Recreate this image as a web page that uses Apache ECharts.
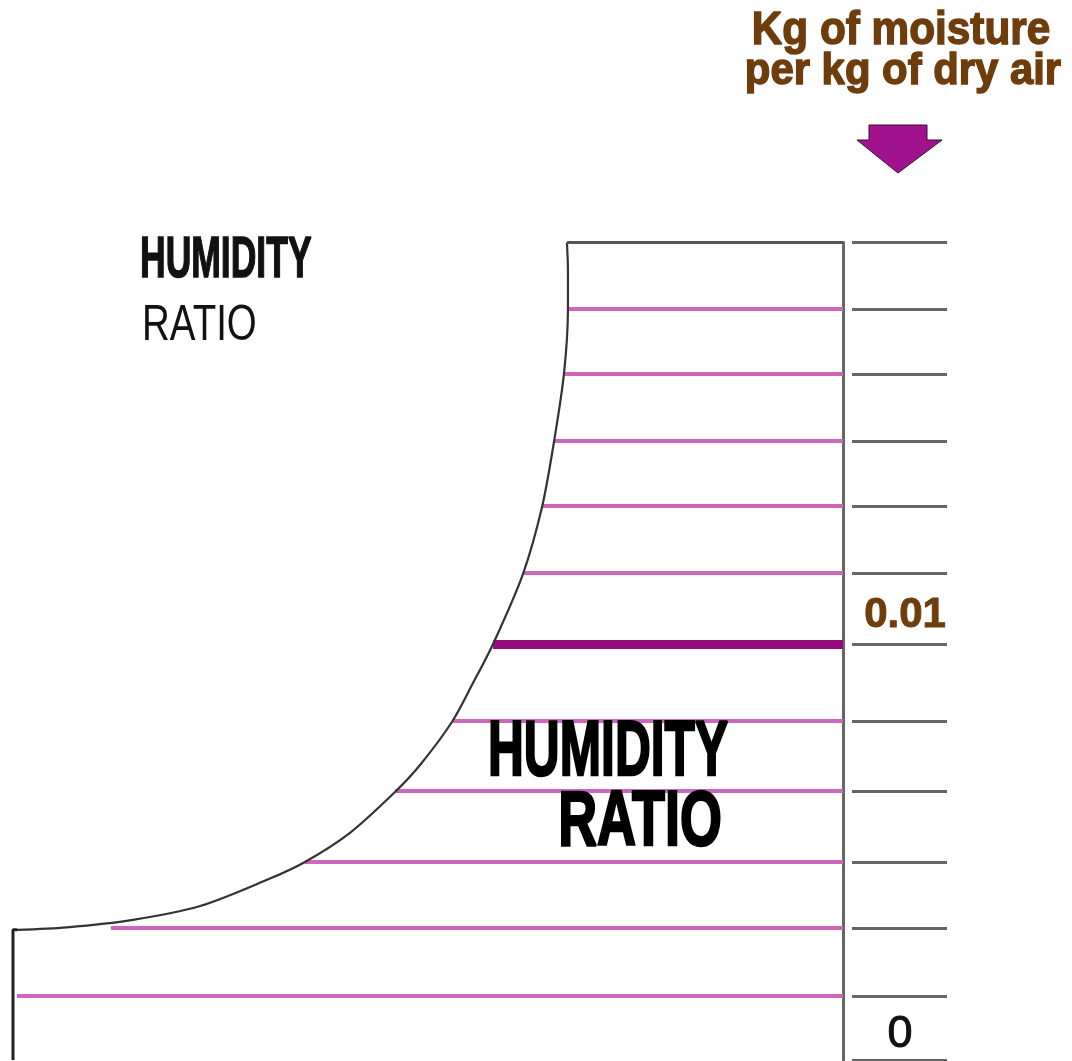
<!doctype html>
<html lang="en">
<head>
    <meta charset="UTF-8">
    <title>Humidity ratio</title>
    <script src="https://cdn.jsdelivr.net/npm/echarts@6.0.0/dist/echarts.min.js"></script>
    <style>
        html, body { margin: 0; padding: 0; background: #fff; }
        #chart { width: 1072px; height: 1061px; }
    </style>
</head>
<body>
<div id="chart"></div>
<script>
    // humidity ratio levels (kg moisture / kg dry air) of the horizontal lines
    const lineValues = [0.00154, 0.00317, 0.00476, 0.00647, 0.00815, 0.01171, 0.01332, 0.01488, 0.01649, 0.01805]
    // where each line meets the saturation curve (dry bulb, arbitrary 0-50 scale)
    const lineStarts = [0.24, 5.9, 17.59, 23.01, 26.45, 30.72, 31.87, 32.59, 33.19, 33.43]
    // highlighted level
    const markValue = 0.01
    const markStart = 28.92
    // saturation curve
    const curveX = [0.24, 3.25, 7.23, 11.27, 15.30, 17.59, 20.30, 23.01, 24.52, 26.45, 27.71, 28.92, 30.72, 31.87, 32.59, 33.19, 33.43, 33.43, 33.37]
    const curveY = [0.00313, 0.00319, 0.00337, 0.00370, 0.00433, 0.00476, 0.00546, 0.00644, 0.00709, 0.00813, 0.00906, 0.01000, 0.01168, 0.01329, 0.01486, 0.01649, 0.01805, 0.01899, 0.01965]
    const yMax = 0.01965
    const xMax = 50
    // scale ticks and labels on the right
    const tickValues = [0].concat(lineValues.slice(0, 5), [markValue], lineValues.slice(5), [yMax])
    const labelValues = [0, 0.01]
    const tickLabels = ['0', '0.01']

    const chart = echarts.init(document.getElementById('chart'))

    const curveData = curveX.map((x, i) => [x, curveY[i]])
    const leftFrame = [[0, 0], [0, curveY[0]], [curveX[0], curveY[0]]]
    const topFrame = [[curveX[curveX.length - 1], yMax], [xMax, yMax]]

    const option = {
        animation: false,
        grid: {left: 13, right: 229, top: 242.5, bottom: 1, outerBoundsMode: 'none'},
        xAxis: {type: 'value', min: 0, max: xMax, show: false},
        yAxis: [
            {
                type: 'value', min: 0, max: yMax, position: 'right',
                axisLine: {show: true, onZero: false, lineStyle: {color: '#666', width: 3}},
                axisTick: {show: false}, axisLabel: {show: false}, splitLine: {show: false}
            },
            {
                type: 'value', min: 0, max: yMax, position: 'right', offset: 9,
                axisLine: {show: false, onZero: false},
                axisTick: {show: true, length: 95, customValues: tickValues, lineStyle: {color: '#666', width: 3}},
                axisLabel: {
                    customValues: labelValues,
                    margin: 53,
                    align: 'center',
                    verticalAlign: 'bottom',
                    formatter: function (v) {
                        const i = labelValues.indexOf(v)
                        return i === 0 ? '{z|' + tickLabels[0] + '}' : '{h|' + tickLabels[i] + '}'
                    },
                    rich: {
                        z: {color: '#111', fontSize: 45, fontFamily: 'Liberation Sans', lineHeight: 50, padding: [0, 10, 0, 0], textBorderColor: '#111', textBorderWidth: 1},
                        h: {color: '#6e3d0b', fontSize: 42, fontWeight: 'bold', fontFamily: 'Liberation Sans', lineHeight: 58, textBorderColor: '#6e3d0b', textBorderWidth: 1}
                    }
                },
                splitLine: {show: false}
            }
        ],
        series: [
            {
                type: 'lines',
                coordinateSystem: 'cartesian2d',
                z: 2,
                lineStyle: {color: '#cc68bc', width: 4, opacity: 1},
                data: lineValues.map((v, i) => ({coords: [[lineStarts[i], v], [xMax, v]]}))
            },
            {
                type: 'lines',
                coordinateSystem: 'cartesian2d',
                z: 3,
                lineStyle: {color: '#960a7e', width: 9, opacity: 1},
                data: [{coords: [[markStart, markValue], [xMax, markValue]]}]
            },
            {
                type: 'line', z: 4, showSymbol: false, smooth: 0.3,
                lineStyle: {color: '#333', width: 2.2},
                data: curveData
            },
            {
                type: 'line', z: 4, showSymbol: false,
                lineStyle: {color: '#222', width: 3},
                data: leftFrame
            },
            {
                type: 'line', z: 4, showSymbol: false,
                lineStyle: {color: '#555', width: 3},
                data: topFrame
            }
        ],
        graphic: [
            {type: 'text', x: 901, y: 31, scaleX: 0.9, style: {text: 'Kg of moisture', font: 'bold 47px "Liberation Sans"', fill: '#6e3d0b', stroke: '#6e3d0b', lineWidth: 1.5, align: 'center', verticalAlign: 'middle'}},
            {type: 'text', x: 903, y: 72, scaleX: 0.93, style: {text: 'per kg of dry air', font: 'bold 45px "Liberation Sans"', fill: '#6e3d0b', stroke: '#6e3d0b', lineWidth: 1.5, align: 'center', verticalAlign: 'middle'}},
            {
                type: 'polygon',
                shape: {points: [[869, 125], [927, 125], [927, 140], [942, 140], [898, 173], [857, 140], [869, 140]]},
                style: {fill: '#a0128c', stroke: '#3a0a33', lineWidth: 1}
            },
            {type: 'text', x: 140, y: 261, scaleX: 0.612, style: {text: 'HUMIDITY', font: 'bold 58px "Liberation Sans"', fill: '#111', stroke: '#111', lineWidth: 1.5, align: 'left', verticalAlign: 'middle'}},
            {type: 'text', x: 142, y: 326, scaleX: 0.77, style: {text: 'RATIO', font: '50px "Liberation Sans"', fill: '#111', align: 'left', verticalAlign: 'middle'}},
            {type: 'text', x: 608, y: 754, scaleX: 0.645, z: 10, style: {text: 'HUMIDITY', font: 'bold 77px "Liberation Sans"', fill: '#000', stroke: '#000', lineWidth: 2.5, align: 'center', verticalAlign: 'middle'}},
            {type: 'text', x: 640, y: 824, scaleX: 0.70, z: 10, style: {text: 'RATIO', font: 'bold 77px "Liberation Sans"', fill: '#000', stroke: '#000', lineWidth: 2.5, align: 'center', verticalAlign: 'middle'}}
        ]
    }
    chart.setOption(option)
</script>
</body>
</html>
